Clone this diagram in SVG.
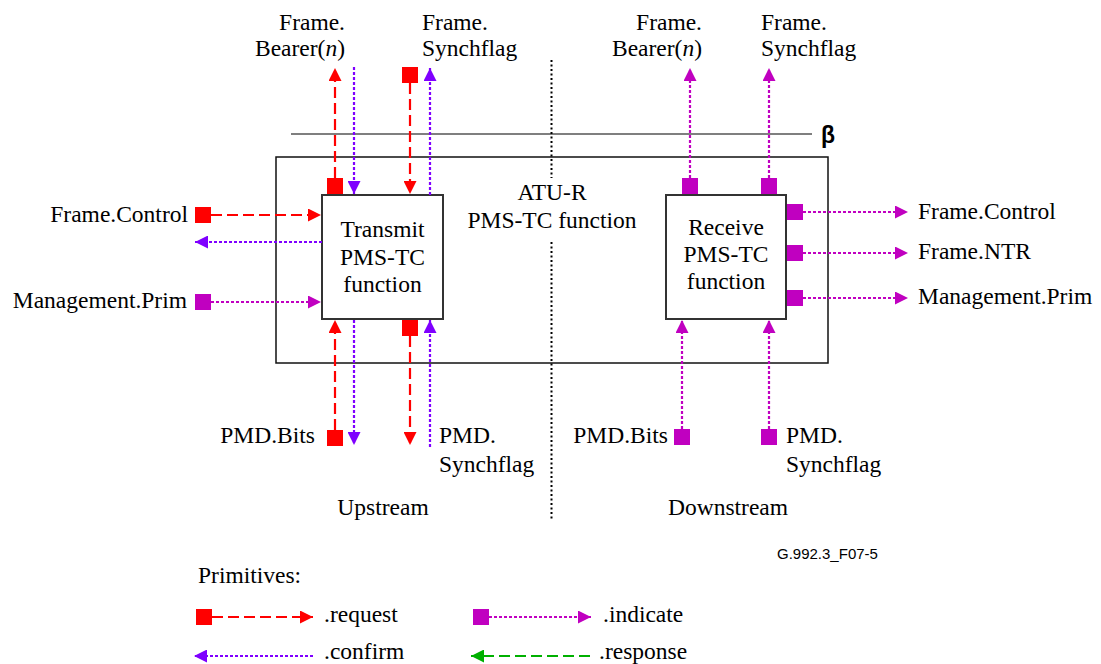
<svg xmlns="http://www.w3.org/2000/svg" width="1101" height="664" viewBox="0 0 1101 664">
<style>
text{font-family:"Liberation Serif","Times New Roman",serif;font-size:23.5px;fill:#000}
.e{text-anchor:end}.m{text-anchor:middle}
.box{fill:#fff;stroke:#333;stroke-width:2}
.req{stroke:#FF0000;stroke-width:2.2;stroke-dasharray:11 5;fill:none}
.cnf{stroke:#7F00FF;stroke-width:2.2;stroke-dasharray:3 2;fill:none}
.ind{stroke:#C000C0;stroke-width:2.2;stroke-dasharray:3 2;fill:none}
.rsp{stroke:#00B000;stroke-width:2.2;stroke-dasharray:11 5;fill:none}
.sr{fill:#FF0000}.sm{fill:#C000C0}
</style>
<defs>
<marker id="ar" markerUnits="userSpaceOnUse" markerWidth="13" markerHeight="13" refX="13" refY="6.5" orient="auto"><path d="M0,0L13,6.5L0,13z" fill="#FF0000"/></marker>
<marker id="ac" markerUnits="userSpaceOnUse" markerWidth="13" markerHeight="13" refX="13" refY="6.5" orient="auto"><path d="M0,0L13,6.5L0,13z" fill="#7F00FF"/></marker>
<marker id="ai" markerUnits="userSpaceOnUse" markerWidth="13" markerHeight="13" refX="13" refY="6.5" orient="auto"><path d="M0,0L13,6.5L0,13z" fill="#C000C0"/></marker>
<marker id="ag" markerUnits="userSpaceOnUse" markerWidth="13" markerHeight="13" refX="13" refY="6.5" orient="auto"><path d="M0,0L13,6.5L0,13z" fill="#00B000"/></marker>
</defs>

<g id="frame">
<line x1="291" y1="134" x2="812" y2="134" stroke="#555" stroke-width="1.5"/>
<text x="821" y="143" style="font-family:'Liberation Sans',Arial,sans-serif;font-weight:bold;font-size:23px">β</text>
<rect x="276" y="157" width="552" height="206" fill="none" stroke="#111" stroke-width="1.5"/>
<line x1="551.5" y1="60" x2="551.5" y2="178" stroke="#000" stroke-width="2" stroke-dasharray="2 2.5"/>
<line x1="551.5" y1="242" x2="551.5" y2="520" stroke="#000" stroke-width="2" stroke-dasharray="2 2.5"/>
<text class="m" x="552" y="200">ATU-R</text>
<text class="m" x="552" y="228">PMS-TC function</text>
</g>

<g id="transmit">
<rect class="box" x="322" y="195" width="121" height="124"/>
<text class="m" x="382.5" y="237">Transmit</text>
<text class="m" x="382.5" y="265">PMS-TC</text>
<text class="m" x="382.5" y="292">function</text>
</g>

<g id="receive">
<rect class="box" x="666" y="195" width="120" height="124"/>
<text class="m" x="726" y="235">Receive</text>
<text class="m" x="726" y="262">PMS-TC</text>
<text class="m" x="726" y="289">function</text>
</g>

<g id="connectors">
<!-- transmit top -->
<line class="req" x1="335" y1="178" x2="335" y2="68" marker-end="url(#ar)"/>
<rect class="sr" x="327" y="178" width="16" height="16"/>
<line class="cnf" x1="354" y1="67" x2="354" y2="194" marker-end="url(#ac)"/>
<line class="req" x1="410" y1="83" x2="410" y2="194" marker-end="url(#ar)"/>
<rect class="sr" x="402" y="67" width="16" height="16"/>
<line class="cnf" x1="430" y1="195" x2="430" y2="68" marker-end="url(#ac)"/>
<!-- transmit left -->
<line class="req" x1="211" y1="215" x2="321" y2="215" marker-end="url(#ar)"/>
<rect class="sr" x="195" y="207" width="16" height="16"/>
<line class="cnf" x1="322" y1="242" x2="195" y2="242" marker-end="url(#ac)"/>
<line class="ind" x1="211" y1="302" x2="321" y2="302" marker-end="url(#ai)"/>
<rect class="sm" x="195" y="294" width="16" height="16"/>
<!-- transmit bottom -->
<line class="req" x1="335" y1="430" x2="335" y2="320" marker-end="url(#ar)"/>
<rect class="sr" x="327" y="430" width="16" height="16"/>
<line class="cnf" x1="354" y1="320" x2="354" y2="445" marker-end="url(#ac)"/>
<line class="req" x1="410" y1="336" x2="410" y2="445" marker-end="url(#ar)"/>
<rect class="sr" x="402" y="320" width="16" height="16"/>
<line class="cnf" x1="430" y1="447" x2="430" y2="320" marker-end="url(#ac)"/>
<!-- receive top -->
<line class="ind" x1="690" y1="178" x2="690" y2="68" marker-end="url(#ai)"/>
<rect class="sm" x="682" y="178" width="16" height="16"/>
<line class="ind" x1="769" y1="178" x2="769" y2="68" marker-end="url(#ai)"/>
<rect class="sm" x="761" y="178" width="16" height="16"/>
<!-- receive right -->
<line class="ind" x1="803" y1="212" x2="908" y2="212" marker-end="url(#ai)"/>
<rect class="sm" x="787" y="204" width="16" height="16"/>
<line class="ind" x1="803" y1="253" x2="908" y2="253" marker-end="url(#ai)"/>
<rect class="sm" x="787" y="245" width="16" height="16"/>
<line class="ind" x1="803" y1="298" x2="908" y2="298" marker-end="url(#ai)"/>
<rect class="sm" x="787" y="290" width="16" height="16"/>
<!-- receive bottom -->
<line class="ind" x1="682" y1="429" x2="682" y2="320" marker-end="url(#ai)"/>
<rect class="sm" x="674" y="429" width="16" height="16"/>
<line class="ind" x1="769" y1="429" x2="769" y2="320" marker-end="url(#ai)"/>
<rect class="sm" x="761" y="429" width="16" height="16"/>
</g>

<g id="labels">
<text class="e" x="345" y="30">Frame.</text>
<text class="e" x="345" y="56">Bearer(<tspan font-style="italic">n</tspan>)</text>
<text x="422" y="30">Frame.</text>
<text x="422" y="56">Synchflag</text>
<text class="e" x="702" y="30">Frame.</text>
<text class="e" x="702" y="56">Bearer(<tspan font-style="italic">n</tspan>)</text>
<text x="761" y="30">Frame.</text>
<text x="761" y="56">Synchflag</text>
<text class="e" x="188" y="222">Frame.Control</text>
<text class="e" x="187" y="308">Management.Prim</text>
<text x="918" y="219">Frame.Control</text>
<text x="918" y="259">Frame.NTR</text>
<text x="918" y="304">Management.Prim</text>
<text class="e" x="315" y="443">PMD.Bits</text>
<text x="439" y="443">PMD.</text>
<text x="439" y="472">Synchflag</text>
<text class="e" x="668" y="443">PMD.Bits</text>
<text x="786" y="443">PMD.</text>
<text x="786" y="472">Synchflag</text>
<text class="m" x="383" y="515">Upstream</text>
<text class="m" x="728" y="515">Downstream</text>
<text x="777" y="559" style="font-family:'Liberation Sans',Arial,sans-serif;font-size:15px">G.992.3_F07-5</text>
</g>

<g id="legend">
<text x="198" y="583">Primitives:</text>
<line class="req" x1="212" y1="617" x2="313" y2="617" marker-end="url(#ar)"/>
<rect class="sr" x="196" y="609" width="16" height="16"/>
<text x="324" y="622">.request</text>
<line class="ind" x1="489" y1="617" x2="591" y2="617" marker-end="url(#ai)"/>
<rect class="sm" x="473" y="609" width="16" height="16"/>
<text x="603" y="622">.indicate</text>
<line class="cnf" x1="313" y1="656" x2="194" y2="656" marker-end="url(#ac)"/>
<text x="324" y="659">.confirm</text>
<line class="rsp" x1="590" y1="656" x2="471" y2="656" marker-end="url(#ag)"/>
<text x="599" y="659">.response</text>
</g>
</svg>
